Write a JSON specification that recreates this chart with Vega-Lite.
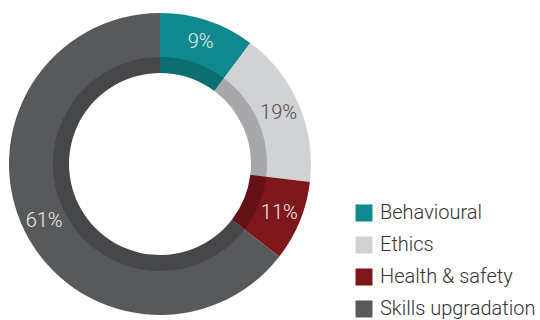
{
  "$schema": "https://vega.github.io/schema/vega-lite/v6.json",
  "width": 302,
  "height": 302,
  "padding": {"left": 9, "top": 13, "right": 0, "bottom": 0},
  "background": "white",
  "config": {"view": {"stroke": null}, "font": "Roboto"},
  "data": {
    "values": [
      {"category": "Behavioural", "share": 10.2, "label": "9%", "order": 1, "tc": "light"},
      {"category": "Ethics", "share": 16.7, "label": "19%", "order": 2, "tc": "dark"},
      {"category": "Health & safety", "share": 8.6, "label": "11%", "order": 3, "tc": "light"},
      {"category": "Skills upgradation", "share": 64.5, "label": "61%", "order": 4, "tc": "light"}
    ]
  },
  "encoding": {
    "theta": {"field": "share", "type": "quantitative", "stack": true},
    "order": {"field": "order", "type": "quantitative"}
  },
  "layer": [
    {
      "mark": {"type": "arc", "outerRadius": 151, "innerRadius": 91},
      "encoding": {
        "color": {
          "field": "category",
          "type": "nominal",
          "sort": ["Behavioural", "Ethics", "Health & safety", "Skills upgradation"],
          "scale": {
            "domain": ["Behavioural", "Ethics", "Health & safety", "Skills upgradation"],
            "range": ["#0E8A8E", "#D1D2D4", "#7E171C", "#58595B"]
          },
          "legend": {
            "title": null,
            "orient": "none",
            "legendX": 345,
            "legendY": 190,
            "symbolType": "square",
            "symbolSize": 289,
            "symbolStrokeWidth": 0,
            "symbolOpacity": 1,
            "labelFontSize": 20,
            "labelFont": "Roboto",
            "labelFontWeight": 300,
            "labelColor": "#333333",
            "rowPadding": 12,
            "labelOffset": 6,
            "labelLimit": 300
          }
        }
      }
    },
    {
      "mark": {"type": "arc", "outerRadius": 107, "innerRadius": 91, "color": "black", "opacity": 0.2}
    },
    {
      "mark": {"type": "text", "radius": 129, "fontSize": 20, "fontWeight": 300, "font": "Roboto"},
      "encoding": {
        "text": {"field": "label"},
        "color": {
          "condition": {"test": "datum.tc === 'dark'", "value": "#4d4d4f"},
          "value": "#eeeeee"
        }
      }
    }
  ]
}
